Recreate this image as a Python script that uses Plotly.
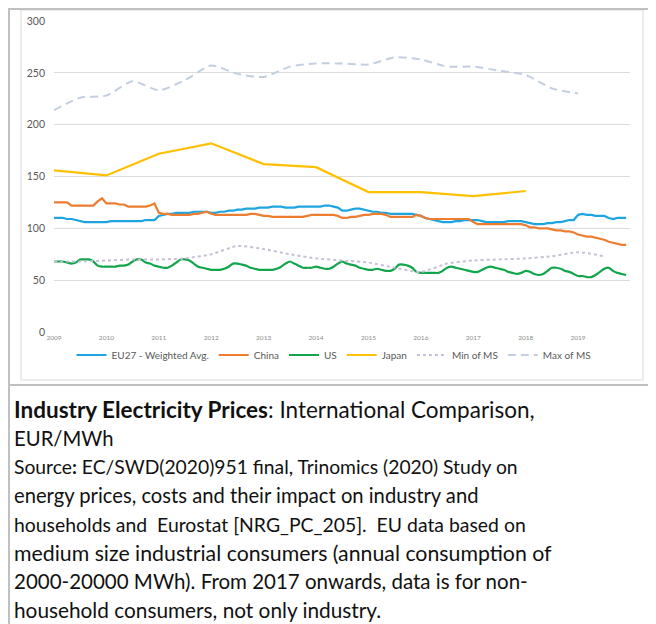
import plotly.graph_objects as go

# ---------------- data ----------------
start_year = 2009
eu27 = [
    110, 110, 110, 109, 109, 108, 107, 106, 106, 106, 106, 106,
    106, 107, 107, 107, 107, 107, 107, 107, 107, 108, 108, 108,
    112, 113, 114, 114, 115, 115, 115, 115, 116, 116, 116, 116,
    115, 115, 116, 116, 117, 117, 118, 118, 119, 119, 119, 120,
    120, 120, 121, 121, 121, 120, 120, 120, 121, 121, 121, 121,
    121, 121, 122, 122, 121, 120, 117, 117, 118, 119, 119, 118,
    117, 116, 116, 115, 115, 114, 114, 114, 114, 114, 114, 113,
    112, 110, 109, 108, 107, 106, 106, 106, 107, 107, 108, 108,
    108, 108, 107, 106, 106, 106, 106, 106, 107, 107, 107, 107,
    106, 105, 104, 104, 104, 105, 105, 106, 106, 107, 108, 108,
    113, 114, 113, 113, 112, 112, 112, 110, 109, 110, 110, 110]
china = [
    125, 125, 125, 125, 122, 122, 122, 122, 122, 122, 126, 129,
    124, 124, 124, 123, 123, 121, 121, 121, 121, 121, 122, 124,
    115, 114, 114, 113, 113, 113, 113, 113, 114, 114, 115, 116,
    114, 113, 113, 113, 113, 113, 113, 113, 113, 114, 114, 113,
    112, 112, 111, 111, 111, 111, 111, 111, 111, 111, 112, 113,
    113, 113, 113, 113, 113, 112, 110, 110, 111, 111, 112, 113,
    113, 114, 114, 114, 113, 111, 111, 111, 111, 111, 111, 113,
    112, 110, 109, 109, 109, 109, 109, 109, 109, 109, 109, 109,
    106, 104, 104, 104, 104, 104, 104, 104, 104, 104, 104, 104,
    103, 101, 101, 100, 100, 100, 99, 98, 98, 97, 97, 96,
    94, 93, 92, 92, 91, 90, 89, 87, 86, 85, 84, 84]
us = [
    68, 68, 68, 67, 66, 67, 70, 70, 70, 68, 64, 63,
    63, 63, 63, 64, 64, 65, 68, 70, 70, 67, 66, 64,
    63, 62, 62, 64, 67, 70, 70, 69, 66, 63, 62, 61,
    60, 60, 60, 61, 63, 66, 66, 65, 64, 62, 61, 60,
    60, 60, 60, 61, 63, 66, 68, 66, 64, 62, 62, 62,
    63, 62, 61, 61, 63, 66, 68, 66, 65, 64, 62, 61,
    60, 60, 61, 60, 59, 59, 61, 65, 65, 64, 62, 58,
    57, 57, 57, 57, 57, 59, 62, 63, 62, 61, 60, 59,
    58, 58, 60, 62, 63, 62, 61, 60, 58, 57, 56, 57,
    59, 58, 56, 55, 56, 59, 62, 62, 61, 59, 58, 56,
    54, 54, 53, 53, 55, 58, 61, 62, 59, 57, 56, 55]
japan = [156, 151, 172, 182, 162, 159, 135, 135, 131, 136]
min_ms = [68, 68, 69, 70, 70, 71, 75, 83, 80, 75, 71, 69, 67, 62, 58, 66, 69, 70, 71, 73, 77, 73]
max_ms = [214, 226, 228, 242, 233, 243, 257, 249, 246, 256, 259, 259, 258, 265, 263, 256, 256, 252, 248, 235, 230]
year_ticks = list(range(2009, 2020))
y_ticks = [0, 50, 100, 150, 200, 250, 300]

x_month = [start_year + m / 12 for m in range(len(eu27))]
x_year = [start_year + i for i in range(len(japan))]
x_min = [start_year + i / 2 for i in range(len(min_ms))]
x_max = [start_year + i / 2 for i in range(len(max_ms))]

caption_title = "<b>Industry Electricity Prices</b>: International Comparison,"
caption_lines = [
    "EUR/MWh",
    "Source<b>:</b> EC/SWD(2020)951 final, Trinomics (2020) Study on",
    "energy prices, costs and their impact on industry and",
    "households and  Eurostat [NRG_PC_205].  EU data based on",
    "medium size industrial consumers (annual consumption of",
    "2000-20000 MWh). From 2017 onwards, data is for non-",
    "household consumers, not only industry.",
]

# ---------------- layout geometry ----------------
# the page body has an 8px margin, so figure pixel = page pixel - 8
OFF = 8
W, H = 648, 616
L, R, T, B = 46, 26, 13, 292
PW, PH = W - L - R, H - T - B


def fx(page_px):
    return (page_px - OFF - L) / PW


def fy(page_py):
    return (H - B - (page_py - OFF)) / PH


FONT = "Lato, 'Open Sans', sans-serif"

fig = go.Figure()
fig.add_trace(go.Scatter(x=x_month, y=eu27, name="EU27 - Weighted Avg.", mode="lines",
                         line=dict(color="#1ea5e0", width=2.2)))
fig.add_trace(go.Scatter(x=x_month, y=china, name="China", mode="lines",
                         line=dict(color="#ed7d31", width=2.2)))
fig.add_trace(go.Scatter(x=x_month, y=us, name="US", mode="lines",
                         line=dict(color="#12a54c", width=2.2, shape="spline", smoothing=0.8)))
fig.add_trace(go.Scatter(x=x_year, y=japan, name="Japan", mode="lines",
                         line=dict(color="#ffc000", width=2.2)))
fig.add_trace(go.Scatter(x=x_min, y=min_ms, name="Min of MS", mode="lines",
                         line=dict(color="#c7bfd6", width=2, dash="dot", shape="spline", smoothing=0.6)))
fig.add_trace(go.Scatter(x=x_max, y=max_ms, name="Max of MS", mode="lines",
                         line=dict(color="#c3cfe0", width=2, dash="8px,5px", shape="spline", smoothing=0.6)))

shapes = [
    # chart picture frame
    dict(type="rect", xref="paper", yref="paper", x0=fx(21), x1=fx(643), y0=fy(10), y1=fy(380),
         line=dict(color="#d9d9d9", width=1), layer="below"),
    # table borders
    dict(type="line", xref="paper", yref="paper", x0=fx(8), x1=fx(660), y0=fy(9), y1=fy(9),
         line=dict(color="#c0c0c0", width=2)),
    dict(type="line", xref="paper", yref="paper", x0=fx(9), x1=fx(9), y0=fy(8), y1=fy(630),
         line=dict(color="#c0c0c0", width=2)),
    dict(type="line", xref="paper", yref="paper", x0=fx(8), x1=fx(660), y0=fy(385), y1=fy(385),
         line=dict(color="#c0c0c0", width=2)),
]

annotations = [dict(text=caption_title, xref="paper", yref="paper", x=fx(12), y=fy(409),
                    xanchor="left", yanchor="middle", showarrow=False,
                    font=dict(family=FONT, size=22.5, color="#111111"))]
line_y = [438, 467, 495, 524, 553, 581, 609]
line_size = [20.3, 19.3, 20.2, 19.4, 21.3, 20.5, 20.8]
for txt, yy, sz in zip(caption_lines, line_y, line_size):
    annotations.append(dict(text=txt, xref="paper", yref="paper", x=fx(12), y=fy(yy),
                            xanchor="left", yanchor="middle", showarrow=False,
                            font=dict(family=FONT, size=sz, color="#111111")))

fig.update_layout(
    width=W, height=H,
    margin=dict(l=L, r=R, t=T, b=B, pad=0, autoexpand=False),
    paper_bgcolor="white", plot_bgcolor="white",
    showlegend=True,
    legend=dict(orientation="h", x=fx(334), y=fy(355), xanchor="center", yanchor="middle",
                font=dict(family=FONT, size=10, color="#595959"), itemwidth=30,
                tracegroupgap=0, bgcolor="rgba(0,0,0,0)"),
    xaxis=dict(range=[2009, 2019.99], tickvals=year_ticks, ticktext=[str(y) for y in year_ticks],
               showgrid=False, zeroline=False, showline=False, ticks="", automargin=False,
               tickfont=dict(family=FONT, size=6.5, color="#8c8c8c")),
    yaxis=dict(range=[0, 300], tickvals=y_ticks, showgrid=True, gridcolor="#dcdcdc", gridwidth=1,
               zeroline=False, showline=False, ticks="", ticklabelstandoff=8, automargin=False,
               tickfont=dict(family=FONT, size=10.5, color="#595959")),
    shapes=shapes,
    annotations=annotations,
    font=dict(family=FONT),
)

fig.write_html("out.html")
